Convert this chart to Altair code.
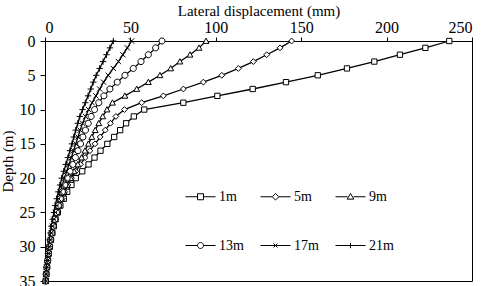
import altair as alt
import pandas as pd

SERIES = ["1m", "5m", "9m", "13m", "17m", "21m"]
DEPTH = [0, 1, 2, 3, 4, 5, 6, 7, 8, 9, 10, 11, 12, 13, 14, 15, 16, 17,
         18, 19, 20, 21, 22, 23, 24, 25, 26, 27, 28, 29, 30, 31, 32, 33, 34, 35]

V_1M = [236.7, 222.7, 207.8, 192.8, 176.8, 159.7, 141.1, 121.6, 100.9, 81.0,
        58.1, 52.0, 47.5, 44.0, 40.5, 36.5, 32.5, 29.0, 25.5, 21.8,
        18.0, 15.5, 13.0, 11.0, 9.0, 7.5, 6.2, 5.2, 4.3, 3.5,
        2.8, 2.2, 1.7, 1.2, 0.8, 0.5]
V_5M = [144.4, 137.6, 129.8, 122.0, 113.2, 103.5, 92.7, 81.0, 69.3, 56.6,
        46.5, 41.5, 38.3, 35.3, 32.3, 29.3, 26.3, 23.5, 20.7, 18.0,
        15.5, 13.4, 11.5, 10.0, 8.5, 7.0, 5.8, 4.8, 4.0, 3.2,
        2.6, 2.0, 1.5, 1.1, 0.7, 0.4]
V_9M = [94.3, 90.2, 84.9, 79.0, 73.6, 67.3, 60.5, 53.7, 46.8, 39.5,
        36.3, 33.8, 31.5, 29.4, 27.4, 25.4, 23.4, 21.4, 19.2, 17.0,
        15.0, 13.0, 11.2, 9.6, 8.2, 6.8, 5.6, 4.6, 3.8, 3.1,
        2.5, 1.9, 1.4, 1.0, 0.6, 0.3]
V_13M = [68.5, 64.8, 60.5, 56.2, 51.7, 46.8, 42.3, 38.0, 34.5, 31.5,
         29.0, 27.0, 25.3, 23.7, 22.2, 20.8, 19.3, 17.8, 16.2, 14.6,
         13.0, 11.6, 10.2, 9.0, 7.8, 6.7, 5.7, 4.8, 4.0, 3.3,
         2.7, 2.1, 1.6, 1.1, 0.7, 0.4]
V_17M = [50.7, 48.2, 45.6, 43.0, 40.0, 37.0, 34.3, 32.0, 29.8, 27.6,
         25.5, 23.7, 22.0, 20.6, 19.3, 18.0, 16.7, 15.4, 14.0, 12.7,
         11.4, 10.2, 9.0, 8.0, 7.0, 6.1, 5.2, 4.4, 3.7, 3.1,
         2.5, 2.0, 1.5, 1.0, 0.7, 0.4]
V_21M = [40.0, 38.0, 36.0, 34.0, 32.0, 30.0, 28.3, 26.8, 25.2, 23.6,
         22.0, 20.4, 19.2, 18.0, 16.9, 15.8, 14.6, 13.4, 12.2, 11.0,
         9.8, 8.8, 7.8, 6.9, 6.0, 5.2, 4.5, 3.8, 3.2, 2.7,
         2.2, 1.7, 1.3, 0.9, 0.6, 0.3]

X_TICKS = [0, 50, 100, 150, 200, 250]
Y_TICKS = [0, 5, 10, 15, 20, 25, 30, 35]

MARKERS = [
    "M-1,-1H1V1H-1Z",
    "M0,-1.1L1.1,0L0,1.1L-1.1,0Z",
    "M0,-1.1L1.1,0.9L-1.1,0.9Z",
    "M1.15,0A1.15,1.15,0,1,1,-1.15,0A1.15,1.15,0,1,1,1.15,0Z",
    "M-1,-1L1,1M-1,1L1,-1",
    "M-1.2,0H1.2M0,-1.2V1.2",
]
LEGEND_SYMBOLS = [
    "M-1,0H-0.2M0.2,0H1M-0.2,-0.2H0.2V0.2H-0.2Z",
    "M-1,0H-0.22M0.22,0H1M0,-0.22L0.22,0L0,0.22L-0.22,0Z",
    "M-1,0H-0.2M0.2,0H1M0,-0.22L0.22,0.16L-0.22,0.16Z",
    "M-1,0H-0.2M0.2,0H1M0.2,0A0.2,0.2,0,1,1,-0.2,0A0.2,0.2,0,1,1,0.2,0Z",
    "M-1,0H1M-0.13,-0.13L0.13,0.13M-0.13,0.13L0.13,-0.13",
    "M-1,0H1M0,-0.18V0.18",
]

rows = []
for name, vals in zip(SERIES, [V_1M, V_5M, V_9M, V_13M, V_17M, V_21M]):
    for d, v in zip(DEPTH, vals):
        rows.append({"series": name, "depth": d, "disp": v})
df = pd.DataFrame(rows)

FONT = "Liberation Serif"

x_enc = alt.X(
    "disp:Q",
    scale=alt.Scale(domain=[0, 250], nice=False, zero=False),
    axis=alt.Axis(orient="top", title="Lateral displacement (mm)", values=X_TICKS,
                  grid=False, tickSize=4, labelPadding=2, titlePadding=1,
                  labelFont=FONT, titleFont=FONT,
                  labelFontSize=16, titleFontSize=15, titleFontWeight="normal"),
)
y_enc = alt.Y(
    "depth:Q",
    scale=alt.Scale(domain=[0, 35], nice=False, reverse=True, zero=False),
    axis=alt.Axis(title="Depth (m)", values=Y_TICKS, grid=False, tickSize=5,
                  labelPadding=5, titlePadding=4, labelFont=FONT, titleFont=FONT,
                  labelFontSize=16, titleFontSize=15, titleFontWeight="normal"),
)

base = alt.Chart(df)

# tiny layer underneath everything that only carries the legend
legend_layer = base.mark_point(filled=False, stroke="black", color="black",
                               strokeWidth=1, opacity=1, size=1).encode(
    x=x_enc, y=y_enc,
    shape=alt.Shape(
        "series:N",
        scale=alt.Scale(domain=SERIES, range=LEGEND_SYMBOLS),
        legend=alt.Legend(
            title=None, orient="none", legendX=140, legendY=140, columns=3,
            direction="horizontal",
            symbolSize=900, symbolStrokeWidth=1, symbolStrokeColor="black",
            symbolOpacity=1, labelFont=FONT,
            labelFontSize=14, labelColor="black", labelOffset=3,
            rowPadding=26, columnPadding=14, padding=0,
        ),
    ),
)

lines = base.mark_line(color="black", strokeWidth=1.3).encode(
    x=x_enc, y=y_enc, detail="series:N", order=alt.Order("depth:Q")
)

points = base.mark_point(filled=True, fill="white", stroke="black",
                         strokeWidth=1, opacity=1, size=28).encode(
    x=x_enc, y=y_enc,
    shape=alt.Shape("series:N", scale=alt.Scale(domain=SERIES, range=MARKERS), legend=None),
)

chart = alt.layer(legend_layer, lines, points).resolve_scale(
    shape="independent"
).properties(
    width=427, height=240,
    padding={"left": 45, "top": 41, "right": 12, "bottom": 5},
    autosize=alt.AutoSizeParams(type="none"),
).configure(
    font=FONT
).configure_view(
    stroke="black", strokeWidth=1
).configure_axis(
    labelFont=FONT, titleFont=FONT, labelColor="black", titleColor="black",
    domainColor="black", tickColor="black", domainWidth=1, tickWidth=1,
)

chart.save("out.html", embed_options={"renderer": "svg", "actions": False})
